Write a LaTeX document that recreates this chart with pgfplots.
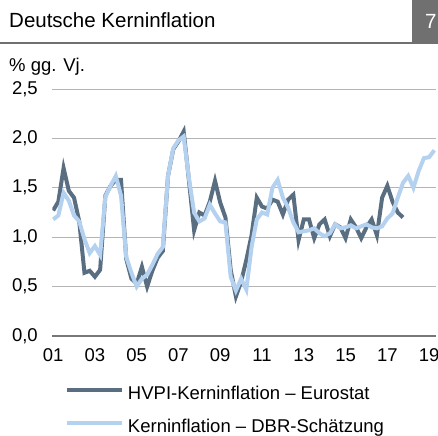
\documentclass[border=0pt]{standalone}
\usepackage{pgfplots}
\pgfplotsset{compat=1.18}
\usepackage{pgfplotstable}
\usepackage{fontspec}
\setmainfont{Liberation Sans}
\definecolor{darkser}{HTML}{5A6E82}
\definecolor{lightser}{HTML}{B4D2F0}
\definecolor{gridc}{HTML}{B4B4B4}
\definecolor{zeroc}{HTML}{777777}
\definecolor{boxc}{HTML}{707070}

\pgfplotstableread{
x v
2001.00 1.27
2001.25 1.36
2001.50 1.70
2001.75 1.47
2002.00 1.40
2002.25 1.16
2002.50 0.64
2002.75 0.66
2003.00 0.60
2003.25 0.67
2003.50 1.42
2003.75 1.52
2004.00 1.58
2004.25 1.58
2004.50 0.78
2004.75 0.58
2005.00 0.53
2005.25 0.70
2005.50 0.50
2005.75 0.66
2006.00 0.79
2006.25 0.86
2006.50 1.62
2006.75 1.89
2007.00 1.97
2007.25 2.07
2007.50 1.58
2007.75 1.07
2008.00 1.25
2008.25 1.22
2008.50 1.36
2008.75 1.57
2009.00 1.35
2009.25 1.20
2009.50 0.67
2009.75 0.40
2010.00 0.55
2010.25 0.77
2010.50 1.02
2010.75 1.40
2011.00 1.31
2011.25 1.29
2011.50 1.38
2011.75 1.36
2012.00 1.23
2012.25 1.38
2012.50 1.43
2012.75 0.97
2013.00 1.18
2013.25 1.18
2013.50 0.99
2013.75 1.13
2014.00 1.18
2014.25 1.01
2014.50 1.13
2014.75 1.10
2015.00 0.99
2015.25 1.18
2015.50 1.10
2015.75 0.99
2016.00 1.10
2016.25 1.18
2016.50 1.02
2016.75 1.40
2017.00 1.52
2017.25 1.36
2017.50 1.25
2017.75 1.20
}\eurostat

\pgfplotstableread{
x v
2001.00 1.18
2001.25 1.22
2001.50 1.45
2001.75 1.37
2002.00 1.22
2002.25 1.16
2002.50 0.98
2002.75 0.84
2003.00 0.91
2003.25 0.82
2003.50 1.41
2003.75 1.52
2004.00 1.62
2004.25 1.42
2004.50 0.80
2004.75 0.64
2005.00 0.50
2005.25 0.58
2005.50 0.62
2005.75 0.72
2006.00 0.83
2006.25 0.90
2006.50 1.62
2006.75 1.90
2007.00 1.98
2007.25 2.02
2007.50 1.60
2007.75 1.25
2008.00 1.16
2008.25 1.19
2008.50 1.33
2008.75 1.24
2009.00 1.16
2009.25 1.15
2009.50 0.60
2009.75 0.46
2010.00 0.58
2010.25 0.47
2010.50 0.90
2010.75 1.18
2011.00 1.25
2011.25 1.23
2011.50 1.50
2011.75 1.58
2012.00 1.40
2012.25 1.30
2012.50 1.15
2012.75 1.05
2013.00 1.06
2013.25 1.07
2013.50 1.09
2013.75 1.04
2014.00 1.01
2014.25 1.04
2014.50 1.13
2014.75 1.09
2015.00 1.10
2015.25 1.12
2015.50 1.09
2015.75 1.11
2016.00 1.13
2016.25 1.10
2016.50 1.09
2016.75 1.11
2017.00 1.19
2017.25 1.24
2017.50 1.40
2017.75 1.55
2018.00 1.62
2018.25 1.50
2018.50 1.67
2018.75 1.80
2019.00 1.81
2019.25 1.88
}\dbr

\begin{document}
\begin{tikzpicture}
\path[use as bounding box] (0,0) rectangle (438bp,-436bp);
\node[anchor=base west, inner sep=0pt, font=\fontsize{20.5bp}{24bp}\selectfont] at (9bp,-27bp) {Deutsche Kerninflation};
\fill[boxc] (0,-42bp) rectangle (412.3bp,-44bp);
\fill[boxc] (412.3bp,0) rectangle (438bp,-44bp);
\node[anchor=base west, inner sep=0pt, text=white, font=\fontsize{20.5bp}{24bp}\selectfont] at (425bp,-28bp) {7};
\node[anchor=base west, inner sep=0pt, font=\fontsize{18.5bp}{22bp}\selectfont] at (9bp,-71bp) {\% gg. Vj.};
\begin{axis}[
  at={(52.3bp,-336bp)}, anchor=south west,
  scale only axis, width=383.7bp, height=247bp,
  xmin=2000.96, xmax=2019.33, ymin=0, ymax=2.5,
  axis line style={draw=none},
  major tick length=0pt,
  xtick={2001,2003,...,2019},
  xticklabels={01,03,05,07,09,11,13,15,17,19},
  ytick={0.5,1,1.5,2,2.5},
  extra y ticks={0},
  extra y tick style={major grid style={zeroc, line width=1.2bp}},
  ymajorgrids=true,
  major grid style={gridc, line width=1bp},
  /pgf/number format/assume math mode=true,
  yticklabel={\pgfmathprintnumber[fixed, fixed zerofill, precision=1, use comma]{\tick}},
  tick label style={font=\fontsize{18.5bp}{22bp}\selectfont},
  yticklabel style={xshift=-11bp},
  xticklabel style={yshift=-9bp},
  legend style={at={(0.033,-0.2024)}, anchor=north west, draw=none, fill=none,
    inner sep=0pt, outer sep=0pt, row sep=15bp, column sep=4bp,
    font=\fontsize{18.5bp}{22bp}\selectfont,
    nodes={inner sep=0pt, text height=14bp, text depth=4bp}},
  legend cell align=left,
  legend image code/.code={\draw[#1] (0bp,5bp) -- (55bp,5bp);},
]
\addplot[draw=darkser, line width=4bp] table[x=x, y=v] {\eurostat};
\addlegendentry{HVPI-Kerninflation -- Eurostat}
\addplot[draw=lightser, line width=4bp] table[x=x, y=v] {\dbr};
\addlegendentry{Kerninflation -- DBR-Schätzung}
\end{axis}
\end{tikzpicture}
\end{document}
